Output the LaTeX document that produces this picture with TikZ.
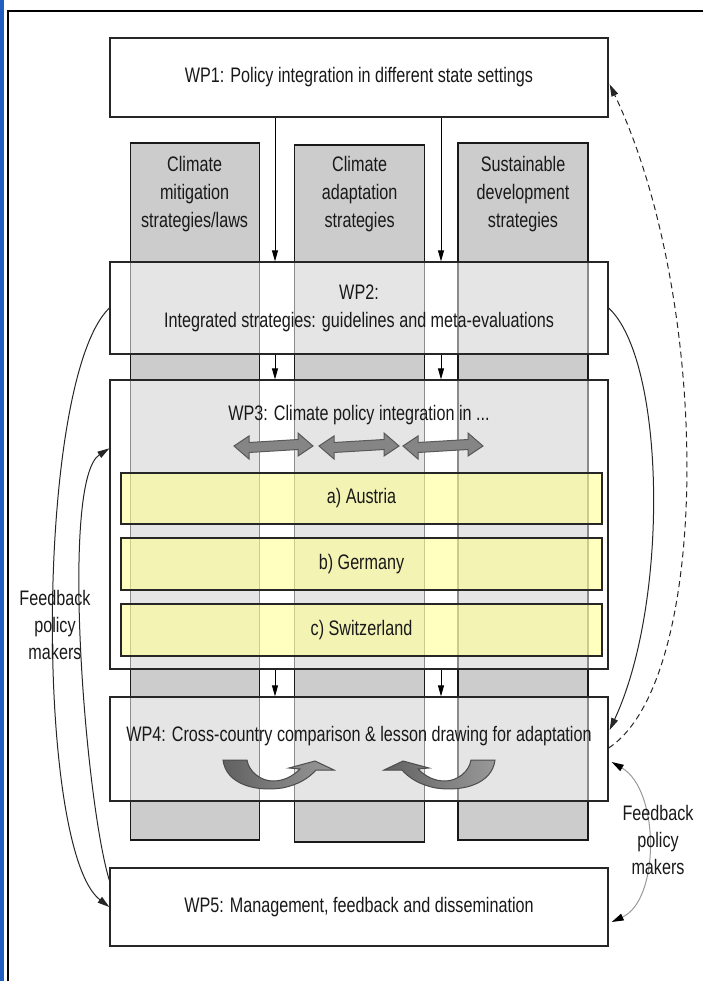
\documentclass[tikz,border=0pt]{standalone}
\usepackage{fontspec}
\setmainfont[FakeStretch=0.77]{Liberation Sans}
\usetikzlibrary{arrows.meta,calc}
\definecolor{colgray}{HTML}{CCCCCC}
\definecolor{winblue}{HTML}{1F5FC0}
\definecolor{paleyellow}{HTML}{FFFF8C}

\begin{document}
\begin{tikzpicture}
[x=1pt,y=-1pt,%
  every node/.style={font=\fontsize{21}{28}\selectfont,align=center,text=black!90},%
  wpbox/.style={draw=black!85,line width=1.3pt,fill=white,fill opacity=0.5,text opacity=1,minimum width=498pt},%
  colbox/.style={draw=black!90,line width=1.2pt,fill=colgray,minimum width=129pt,minimum height=697pt},%
  ctrybox/.style={draw=black!85,line width=1.2pt,fill=paleyellow,fill opacity=0.55,text opacity=1,minimum width=481pt,minimum height=51pt},%
  flow/.style={-{Triangle[length=11pt,width=6pt]},line width=0.9pt},%
  fback/.style={-{Triangle[length=12pt,width=7pt]},line width=1pt,black!85},%
  dblarrow/.style={fill=black!48,draw=black!65,line width=1pt},%
  uturn/.style={draw=black!70,line width=1pt},%
  fbtext/.style={font=\fontsize{21}{27}\selectfont}]
\useasboundingbox (0,0) rectangle (703,981);
% window frame
\fill[winblue] (0,0) rectangle (3.5,981);
\draw[line width=1.5pt] (8,981) -- (8,11) -- (703,11);
% the three strategy columns
\node[colbox] (col1) at (194.6,491.5) {};
\node[colbox,minimum width=130pt] (col2) at (359.6,493.5) {};
\node[colbox,minimum width=130pt] (col3) at (523,491.5) {};
\node (col1t) at (194.6,194) {Climate\\mitigation\\strategies/laws};
\node (col2t) at (359.6,194) {Climate\\adaptation\\strategies};
\node (col3t) at (523,194) {Sustainable\\development\\strategies};
% work packages
\node[wpbox,minimum height=79pt] (wp1) at (359,77.5) {WP1: Policy integration in different state settings};
\node[wpbox,minimum height=92pt] (wp2) at (359,308) {WP2:\\Integrated strategies: guidelines and meta-evaluations};
\node[wpbox,minimum height=289pt] (wp3) at (359,524.5) {};
\node (wp3t) at (359,415) {WP3: Climate policy integration in ...};
\node[ctrybox] (at) at (361.5,498.5) {a) Austria};
\node[ctrybox,minimum height=52pt] (de) at (361.5,564) {b) Germany};
\node[ctrybox,minimum height=52pt] (ch) at (361.5,630) {c) Switzerland};
\node[wpbox,minimum height=104pt] (wp4) at (359,749) {};
\node (wp4t) at (359,736) {WP4: Cross-country comparison \& lesson drawing for adaptation};
\node[wpbox,minimum height=78pt] (wp5) at (359,907) {WP5: Management, feedback and dissemination};
% exchange between the strategies
\foreach \xa/\xb in {234/313,319/399,403/483}
  \draw[dblarrow] (\xa,446) -- ++(15,-10) -- ++(0,6.5) -- (\xb-15,439.5) -- ++(0,-6.5)
    -- (\xb,446) -- ++(-15,10) -- ++(0,-6.5) -- (\xa+15,452.5) -- ++(0,6.5) -- cycle;
% lesson drawing
\path[uturn,left color=black!62,right color=black!40]
  (223,760) .. controls (226,784) and (255,792) .. (282,788)
  .. controls (298,785) and (309,778) .. (316,770) -- (334,770) -- (315,761) -- (289,768) -- (300,769)
  .. controls (292,777) and (283,781) .. (273,781)
  .. controls (261,781) and (249,772) .. (247,760) -- cycle;
\begin{scope}[xshift=718pt,xscale=-1]
\path[uturn,left color=black!62,right color=black!40]
  (223,760) .. controls (226,784) and (255,792) .. (282,788)
  .. controls (298,785) and (309,778) .. (316,770) -- (334,770) -- (315,761) -- (289,768) -- (300,769)
  .. controls (292,777) and (283,781) .. (273,781)
  .. controls (261,781) and (249,772) .. (247,760) -- cycle;
\end{scope}
% flows between work packages
\coordinate (g1) at (275,0);
\coordinate (g2) at (441,0);
\foreach \g in {g1,g2} {
  \draw[flow] (wp1.south -| \g) -- (wp2.north -| \g);
  \draw[flow] (wp2.south -| \g) -- (wp3.north -| \g);
  \draw[flow] (wp3.south -| \g) -- (wp4.north -| \g);
}
% feedback loops
\coordinate (l3) at ($(wp3.north west)+(0,69)$);
\coordinate (l5) at ($(wp5.north west)+(0,13)$);
\coordinate (r1) at ($(wp1.north east)+(1,47)$);
\coordinate (r4a) at ($(wp4.east)+(1,-19)$);
\coordinate (r4b) at ($(wp4.east)+(0,-1)$);
\coordinate (r4c) at ($(wp4.east)+(3,13)$);
\coordinate (r5) at ($(wp5.east)+(3,15)$);
\draw[fback] (wp2.west) .. controls (35,380) and (35,850) .. (wp5.west);
\draw[fback] (l5) .. controls (85,800) and (60,480) .. (l3);
\draw[fback] (wp2.east) .. controls (665,360) and (670,600) .. (r4a);
\draw[fback,dashed,dash pattern=on 6pt off 4pt] (r4b) .. controls (712,680) and (712,300) .. (r1);
\draw[{Triangle[length=12pt,width=7pt,color=black]}-{Triangle[length=12pt,width=7pt,color=black]},line width=1pt,black!40]
  (r4c) .. controls (660,790) and (660,900) .. (r5);
\node[fbtext] (fbl) at (55,625) {Feedback\\policy\\makers};
\node[fbtext] (fbr) at (658,840) {Feedback\\policy\\makers};
\end{tikzpicture}
\end{document}
